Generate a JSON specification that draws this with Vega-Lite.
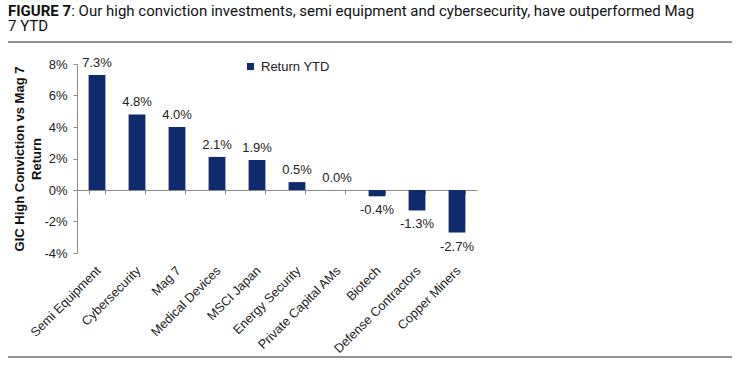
{
  "$schema": "https://vega.github.io/schema/vega-lite/v6.json",
  "width": 724,
  "height": 315,
  "autosize": {"type": "none"},
  "padding": {"left": 8, "top": 42, "right": 8, "bottom": 8},
  "background": "white",
  "title": {
    "text": "FIGURE 7",
    "subtitle": ["\u200b\u00a0\u00a0\u00a0\u00a0\u00a0\u00a0\u00a0\u00a0\u00a0\u00a0\u00a0\u00a0\u00a0\u00a0\u00a0\u00a0\u00a0: Our high conviction investments, semi equipment and cybersecurity, have outperformed Mag", "7 YTD"],
    "anchor": "start",
    "frame": "group",
    "font": "Roboto",
    "fontSize": 15,
    "fontWeight": "bold",
    "color": "#111111",
    "subtitleFont": "Roboto",
    "subtitleFontSize": 15,
    "subtitleColor": "#111111",
    "subtitleLineHeight": 15,
    "subtitlePadding": -15,
    "offset": 8
  },
  "data": {
    "values": [
      {"Category": "Semi Equipment", "Return": 0.073, "Series": "Return YTD"},
      {"Category": "Cybersecurity", "Return": 0.048, "Series": "Return YTD"},
      {"Category": "Mag 7", "Return": 0.040, "Series": "Return YTD"},
      {"Category": "Medical Devices", "Return": 0.021, "Series": "Return YTD"},
      {"Category": "MSCI Japan", "Return": 0.019, "Series": "Return YTD"},
      {"Category": "Energy Security", "Return": 0.005, "Series": "Return YTD"},
      {"Category": "Private Capital AMs", "Return": 0.000, "Series": "Return YTD"},
      {"Category": "Biotech", "Return": -0.004, "Series": "Return YTD"},
      {"Category": "Defense Contractors", "Return": -0.013, "Series": "Return YTD"},
      {"Category": "Copper Miners", "Return": -0.027, "Series": "Return YTD"}
    ]
  },
  "encoding": {
    "x": {
      "field": "Category",
      "type": "nominal",
      "sort": null,
      "scale": {"range": [69, 469], "paddingInner": 0.58, "paddingOuter": 0.29},
      "axis": {
        "orient": "bottom",
        "offset": -167,
        "tickBand": "extent",
        "tickSize": 4,
        "labelAngle": -45,
        "labelPadding": 70,
        "labelOffset": -3,
        "labelFont": "Liberation Sans",
        "labelFontSize": 12.7,
        "labelColor": "#222222",
        "labelOverlap": false,
        "title": null,
        "domainColor": "#8c8c8c",
        "tickColor": "#8c8c8c"
      }
    },
    "y": {
      "field": "Return",
      "type": "quantitative",
      "scale": {"domain": [-0.04, 0.08], "range": [211, 22], "nice": false},
      "axis": {
        "orient": "left",
        "offset": -69,
        "format": ".0%",
        "values": [-0.04, -0.02, 0, 0.02, 0.04, 0.06, 0.08],
        "grid": false,
        "domainColor": "#8c8c8c",
        "tickColor": "#8c8c8c",
        "tickSize": 4,
        "labelPadding": 6,
        "labelFont": "Liberation Sans",
        "labelFontSize": 13,
        "labelColor": "#222222",
        "title": ["GIC High Conviction vs Mag 7", "Return"],
        "titleFont": "Liberation Sans",
        "titleFontSize": 13,
        "titleFontWeight": "bold",
        "titleColor": "#111111",
        "titleLineHeight": 17,
        "titlePadding": 0
      }
    }
  },
  "layer": [
    {
      "mark": {"type": "bar"},
      "encoding": {
        "color": {
          "field": "Series",
          "type": "nominal",
          "scale": {"range": ["#0E2B6E"]},
          "legend": {
            "orient": "none",
            "legendX": 236,
            "legendY": 18,
            "title": null,
            "symbolType": "square",
            "symbolSize": 49,
            "symbolStrokeWidth": 0,
            "labelFont": "Liberation Sans",
            "labelFontSize": 13,
            "labelColor": "#222222",
            "labelOffset": 4
          }
        }
      }
    },
    {
      "transform": [{"filter": "datum.Return >= 0"}],
      "mark": {"type": "text", "baseline": "bottom", "dy": -5, "font": "Liberation Sans", "fontSize": 13, "color": "#222222"},
      "encoding": {"text": {"field": "Return", "type": "quantitative", "format": ".1%"}}
    },
    {
      "transform": [{"filter": "datum.Return < 0"}],
      "mark": {"type": "text", "baseline": "top", "dy": 8, "font": "Liberation Sans", "fontSize": 13, "color": "#222222"},
      "encoding": {"text": {"field": "Return", "type": "quantitative", "format": ".1%"}}
    }
  ],
  "config": {
    "locale": {"number": {"decimal": ".", "thousands": ",", "grouping": [3], "currency": ["$", ""], "minus": "-"}},
    "view": {"stroke": "#707070", "strokeWidth": 1.5, "strokeDash": [724, 315]}
  }
}
